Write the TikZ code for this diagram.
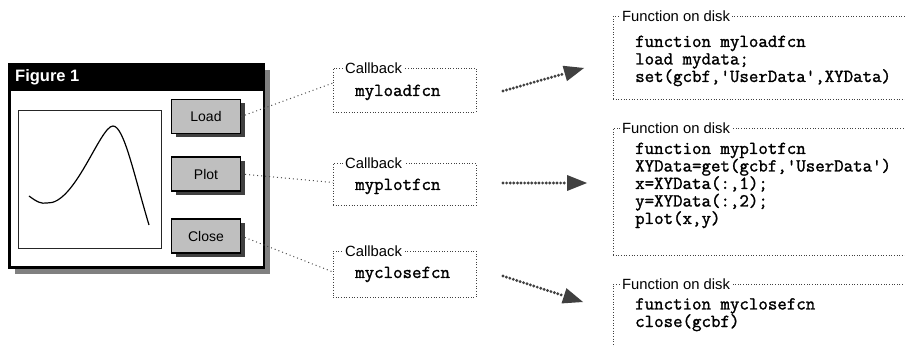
\documentclass[tikz,border=0pt]{standalone}
\usepackage{fontspec}
\setsansfont{Liberation Sans}
\newfontfamily\codefont{Latin Modern Mono}[FakeBold=1.4]
\usetikzlibrary{arrows.meta,calc,shadows}
\begin{document}
\begin{tikzpicture}[x=1pt,y=-1pt,
  dotbox/.style={draw=black!75, line width=0.75pt, dash pattern=on 0.75pt off 1.9pt, inner sep=0pt, outer sep=0pt},
  lbl/.style={font=\sffamily\fontsize{14.8}{17}\selectfont, fill=white, inner sep=2.5pt, anchor=west},
  code/.style={font=\codefont\fontsize{18.4}{17.5}\selectfont, inner sep=0pt, anchor=base west},
  btn/.style={draw=black, line width=1.3pt, fill=black!25, minimum width=69pt, minimum height=34pt, inner sep=0pt,
    font=\sffamily\fontsize{14}{16}\selectfont,
    general shadow={fill=black!75, shadow xshift=4pt, shadow yshift=-4pt}},
  conn/.style={draw=black!70, line width=1pt, dash pattern=on 1pt off 3pt},
  arr/.style={draw=black!75, line width=3.2pt, line cap=round, dash pattern=on 0pt off 3.6pt,
    -{Triangle[length=20pt,width=16pt,line width=0pt]}}
]
\useasboundingbox (0,0) rectangle (905,347);

% Figure window
\node[draw=black, line width=2.5pt, fill=white, minimum width=254.5pt, minimum height=203.5pt, inner sep=0pt,
  general shadow={fill=black!50, shadow xshift=6pt, shadow yshift=-6pt}] (win) at (136.5,166) {};
\node[fill=black, minimum width=257pt, minimum height=28pt, inner sep=0pt, anchor=north west] (title) at (8,63) {};
\node[text=white, font=\sffamily\bfseries\fontsize{16.5}{18}\selectfont, inner sep=0pt, anchor=west] (titletxt) at (15,77) {Figure 1};

% Axes and curve
\node[draw=black!85, line width=0.8pt, minimum width=143pt, minimum height=138pt, inner sep=0pt] (ax) at (89.5,179) {};
\draw[line width=1.2pt] (29,196) .. controls (37,202) and (41,204) .. (47,203)
  .. controls (75,205) and (100,126) .. (113,126)
  .. controls (124,126) and (134,175) .. (149,225);

% Buttons
\node[btn] (load) at (206,116.5) {Load};
\node[btn] (plotb) at (206,174) {Plot};
\node[btn] (close) at (206,236) {Close};

% Callback boxes
\node[dotbox, minimum width=143pt, minimum height=44pt] (cb1) at (404.5,90) {};
\node[dotbox, minimum width=143pt, minimum height=42pt] (cb2) at (404.5,184.5) {};
\node[dotbox, minimum width=143pt, minimum height=46pt] (cb3) at (404.5,274) {};
\node[lbl] (cbl1) at (342.5,68) {Callback};
\node[lbl] (cbl2) at (342.5,163.5) {Callback};
\node[lbl] (cbl3) at (342.5,251) {Callback};
\node[code] (cbt1) at (355,96) {myloadfcn};
\node[code] (cbt2) at (355,190) {myplotfcn};
\node[code] (cbt3) at (355,278) {myclosefcn};

% Connectors
\draw[conn] (load.east) -- ([yshift=7pt]cb1.west);
\draw[conn] (plotb.east) -- ([yshift=2pt]cb2.west);
\draw[conn] (close.east) -- ([yshift=2pt]cb3.west);

% Function boxes
\node[dotbox, minimum width=307pt, minimum height=83pt] (fb1) at (766.5,57.5) {};
\node[dotbox, minimum width=307pt, minimum height=127pt] (fb2) at (766.5,191.5) {};
\node[dotbox, minimum width=307pt, minimum height=76pt] (fb3) at (766.5,322) {};
\node[lbl] (fbl1) at (619.5,16) {Function on disk};
\node[lbl] (fbl2) at (619.5,128) {Function on disk};
\node[lbl] (fbl3) at (619.5,284) {Function on disk};

\node[code] (c11) at (635,47) {function myloadfcn};
\node[code] (c12) at (635,64.5) {load mydata;};
\node[code] (c13) at (635,82) {set(gcbf,'UserData',XYData)};

\node[code] (c21) at (635,154) {function myplotfcn};
\node[code] (c22) at (635,171.5) {XYData=get(gcbf,'UserData')};
\node[code] (c23) at (635,189) {x=XYData(:,1);};
\node[code] (c24) at (635,206.5) {y=XYData(:,2);};
\node[code] (c25) at (635,224) {plot(x,y)};

\node[code] (c31) at (635,309.5) {function myclosefcn};
\node[code] (c32) at (635,327) {close(gcbf)};

% Arrows
\coordinate (a1s) at (503,91);
\coordinate (a1e) at (584,68);
\coordinate (a2s) at (503,183);
\coordinate (a2e) at (587,183);
\coordinate (a3s) at (503,276);
\coordinate (a3e) at (583,302);
\draw[arr] (a1s) -- (a1e);
\draw[arr] (a2s) -- (a2e);
\draw[arr] (a3s) -- (a3e);
\end{tikzpicture}
\end{document}
